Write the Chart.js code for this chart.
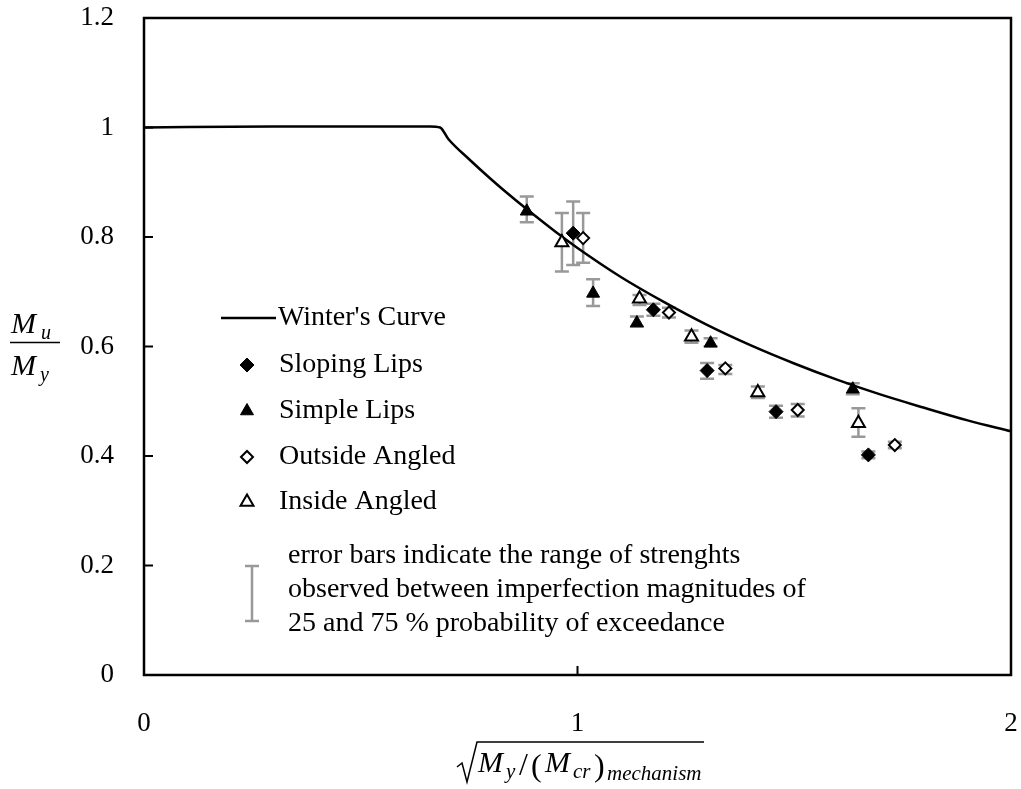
<!DOCTYPE html>
<html lang="en">
<head>
<meta charset="UTF-8">
<title>Winter's Curve vs lip types</title>
<style>
    body {
        margin: 0;
        background: #fff;
    }
    #wrap {
        width: 1021px;
        height: 789px;
    }
</style>
</head>
<body>
<div id="wrap"><canvas id="myChart" width="1021" height="789"></canvas></div>

<script src="https://cdn.jsdelivr.net/npm/chart.js"></script>
<script>
// Winter's curve
const curveX = [0, 0.3, 0.66, 0.683, 0.702, 0.75, 0.8, 0.85, 0.9, 0.95, 1.0, 1.1, 1.2, 1.3, 1.4, 1.5, 1.6, 1.7, 1.8, 1.9, 2.0];
const curveY = [1.0, 1.002, 1.002, 1.0, 0.979, 0.942, 0.906, 0.872, 0.840, 0.809, 0.780, 0.727, 0.681, 0.639, 0.602, 0.569, 0.539, 0.512, 0.488, 0.465, 0.445];

// Sloping Lips
const slopingX  = [0.990, 1.175, 1.299, 1.458, 1.671];
const slopingY  = [0.807, 0.667, 0.556, 0.481, 0.402];
const slopingLo = [0.749, 0.656, 0.541, 0.470, 0.396];
const slopingHi = [0.865, 0.678, 0.570, 0.492, 0.408];

// Simple Lips
const simpleX  = [0.883, 1.036, 1.137, 1.307, 1.635];
const simpleY  = [0.847, 0.697, 0.643, 0.606, 0.522];
const simpleLo = [0.827, 0.674, 0.636, 0.600, 0.513];
const simpleHi = [0.874, 0.723, 0.655, 0.615, 0.533];

// Outside Angled
const outsideX  = [1.013, 1.211, 1.341, 1.508, 1.732];
const outsideY  = [0.798, 0.662, 0.560, 0.484, 0.420];
const outsideLo = [0.753, 0.653, 0.550, 0.472, 0.414];
const outsideHi = [0.844, 0.671, 0.566, 0.495, 0.426];

// Inside Angled
const insideX  = [0.964, 1.143, 1.263, 1.416, 1.648];
const insideY  = [0.790, 0.687, 0.618, 0.516, 0.460];
const insideLo = [0.737, 0.676, 0.607, 0.506, 0.435];
const insideHi = [0.844, 0.694, 0.629, 0.527, 0.487];

const xTicks = [0, 1, 2];
const yTicks = [0, 0.2, 0.4, 0.6, 0.8, 1, 1.2];

const noteLines = [
    'error bars indicate the range of strenghts',
    'observed between imperfection magnitudes of',
    '25 and 75 % probability of exceedance'
];

const SERIF = '"Liberation Serif", "Times New Roman", serif';
const ERR_COLOR = '#999999';

function pts(xs, ys) {
    return xs.map((x, i) => ({ x: x, y: ys[i] }));
}

function drawErrBar(ctx, x, top, bot) {
    ctx.beginPath();
    ctx.moveTo(x, top); ctx.lineTo(x, bot);
    ctx.moveTo(x - 7, top); ctx.lineTo(x + 7, top);
    ctx.moveTo(x - 7, bot); ctx.lineTo(x + 7, bot);
    ctx.stroke();
}

// error bars, frame, inward ticks, legend and axis titles
const extras = {
    id: 'extras',
    beforeDatasetsDraw(chart) {
        const ctx = chart.ctx, xs = chart.scales.x, ys = chart.scales.y;
        ctx.save();
        ctx.strokeStyle = ERR_COLOR;
        ctx.lineWidth = 2.5;
        chart.data.datasets.forEach(ds => {
            if (!ds.errLo) return;
            ds.data.forEach((p, i) => {
                drawErrBar(ctx, xs.getPixelForValue(p.x),
                    ys.getPixelForValue(ds.errHi[i]), ys.getPixelForValue(ds.errLo[i]));
            });
        });
        ctx.restore();
    },
    afterDatasetsDraw(chart) {
        const ctx = chart.ctx, a = chart.chartArea;
        const xs = chart.scales.x, ys = chart.scales.y;
        ctx.save();
        ctx.strokeStyle = '#000';
        ctx.lineWidth = 2.5;
        ctx.strokeRect(a.left, a.top, a.right - a.left, a.bottom - a.top);
        ctx.lineWidth = 2;
        ctx.beginPath();
        xTicks.forEach(v => {
            const px = xs.getPixelForValue(v);
            ctx.moveTo(px, a.bottom); ctx.lineTo(px, a.bottom - 9);
        });
        yTicks.forEach(v => {
            const py = ys.getPixelForValue(v);
            ctx.moveTo(a.left, py); ctx.lineTo(a.left + 9, py);
        });
        ctx.stroke();
        ctx.restore();
    },
    afterDraw(chart) {
        const ctx = chart.ctx;
        const sets = chart.data.datasets;
        ctx.save();

        // legend
        ctx.font = '28px ' + SERIF;
        ctx.textBaseline = 'middle';
        ctx.textAlign = 'left';
        ctx.fillStyle = '#000';
        ctx.strokeStyle = '#000';
        ctx.lineWidth = 2.5;
        ctx.beginPath();
        ctx.moveTo(221, 318); ctx.lineTo(276, 318);
        ctx.stroke();
        ctx.fillText(sets[0].label, 278, 318);

        const rows = [365, 411, 457, 502];
        for (let k = 1; k <= 4; k++) {
            const ds = sets[k];
            ctx.fillStyle = ds.backgroundColor;
            ctx.strokeStyle = ds.borderColor;
            ctx.lineWidth = ds.borderWidth;
            Chart.helpers.drawPoint(ctx, {
                pointStyle: ds.pointStyle, radius: ds.pointRadius,
                borderWidth: ds.borderWidth, rotation: 0
            }, 247, rows[k - 1]);
            ctx.fillStyle = '#000';
            ctx.fillText(ds.label, 279, rows[k - 1]);
        }

        ctx.strokeStyle = ERR_COLOR;
        ctx.lineWidth = 2.5;
        drawErrBar(ctx, 252, 566, 621);
        ctx.fillStyle = '#000';
        noteLines.forEach((t, i) => ctx.fillText(t, 288, 556 + i * 34));

        // y axis title: Mu / My
        ctx.textBaseline = 'alphabetic';
        ctx.font = 'italic 30px ' + SERIF;
        ctx.fillText('M', 11, 333);
        ctx.fillText('M', 11, 375);
        ctx.font = 'italic 20px ' + SERIF;
        ctx.fillText('u', 41, 339);
        ctx.fillText('y', 40, 381);
        ctx.strokeStyle = '#000';
        ctx.lineWidth = 1.5;
        ctx.beginPath();
        ctx.moveTo(10, 342.5); ctx.lineTo(60, 342.5);
        ctx.stroke();

        // x axis title: sqrt(My / (Mcr)mechanism)
        ctx.beginPath();
        ctx.moveTo(457, 767); ctx.lineTo(462, 763);
        ctx.lineTo(467, 782); ctx.lineTo(477, 742); ctx.lineTo(704, 742);
        ctx.stroke();
        ctx.font = 'italic 30px ' + SERIF;
        ctx.fillText('M', 478, 772);
        ctx.fillText('M', 545, 772);
        ctx.font = 'italic 21px ' + SERIF;
        ctx.fillText('y', 506, 778);
        ctx.fillText('cr', 573, 778);
        ctx.fillText('mechanism', 607, 780);
        ctx.font = '32px ' + SERIF;
        ctx.fillText('/', 519, 775);
        ctx.fillText('(', 531, 776);
        ctx.fillText(')', 594, 776);

        ctx.restore();
    }
};

const ctx = document.getElementById('myChart').getContext('2d');
const myChart = new Chart(ctx, {
    type: 'scatter',
    data: {
        datasets: [{
            label: "Winter's Curve",
            data: pts(curveX, curveY),
            showLine: true,
            borderColor: '#000',
            borderWidth: 2.5,
            pointRadius: 0,
            cubicInterpolationMode: 'monotone',
            order: 5
        }, {
            label: 'Sloping Lips',
            data: pts(slopingX, slopingY),
            errLo: slopingLo, errHi: slopingHi,
            pointStyle: 'rectRot', pointRadius: 7,
            backgroundColor: '#000', borderColor: '#000', borderWidth: 1
        }, {
            label: 'Simple Lips',
            data: pts(simpleX, simpleY),
            errLo: simpleLo, errHi: simpleHi,
            pointStyle: 'triangle', pointRadius: 7.5,
            backgroundColor: '#000', borderColor: '#000', borderWidth: 1
        }, {
            label: 'Outside Angled',
            data: pts(outsideX, outsideY),
            errLo: outsideLo, errHi: outsideHi,
            pointStyle: 'rectRot', pointRadius: 6,
            backgroundColor: '#fff', borderColor: '#000', borderWidth: 2
        }, {
            label: 'Inside Angled',
            data: pts(insideX, insideY),
            errLo: insideLo, errHi: insideHi,
            pointStyle: 'triangle', pointRadius: 7.5,
            backgroundColor: '#fff', borderColor: '#000', borderWidth: 2
        }]
    },
    options: {
        responsive: false,
        animation: false,
        devicePixelRatio: 1,
        layout: { padding: { top: 18, right: 10, left: 0, bottom: 0 } },
        plugins: {
            legend: { display: false },
            tooltip: { enabled: false }
        },
        scales: {
            x: {
                type: 'linear',
                min: 0, max: 2,
                afterFit: s => {
                    s.height = 114;
                    s.paddingLeft = 0; s.paddingRight = 0;
                },
                afterBuildTicks: s => { s.ticks = xTicks.map(v => ({ value: v })); },
                grid: { display: false },
                border: { display: false },
                ticks: {
                    color: '#000',
                    padding: 25,
                    maxRotation: 0,
                    callback: v => String(v),
                    font: { family: SERIF, size: 27 }
                }
            },
            y: {
                type: 'linear',
                min: 0, max: 1.2,
                afterFit: s => {
                    s.width = 144;
                    s.paddingTop = 0; s.paddingBottom = 0;
                },
                afterBuildTicks: s => { s.ticks = yTicks.map(v => ({ value: v })); },
                grid: { display: false },
                border: { display: false },
                ticks: {
                    color: '#000',
                    padding: 22,
                    callback: v => String(v),
                    font: { family: SERIF, size: 27 }
                }
            }
        }
    },
    plugins: [extras]
});
</script>
</body>
</html>
